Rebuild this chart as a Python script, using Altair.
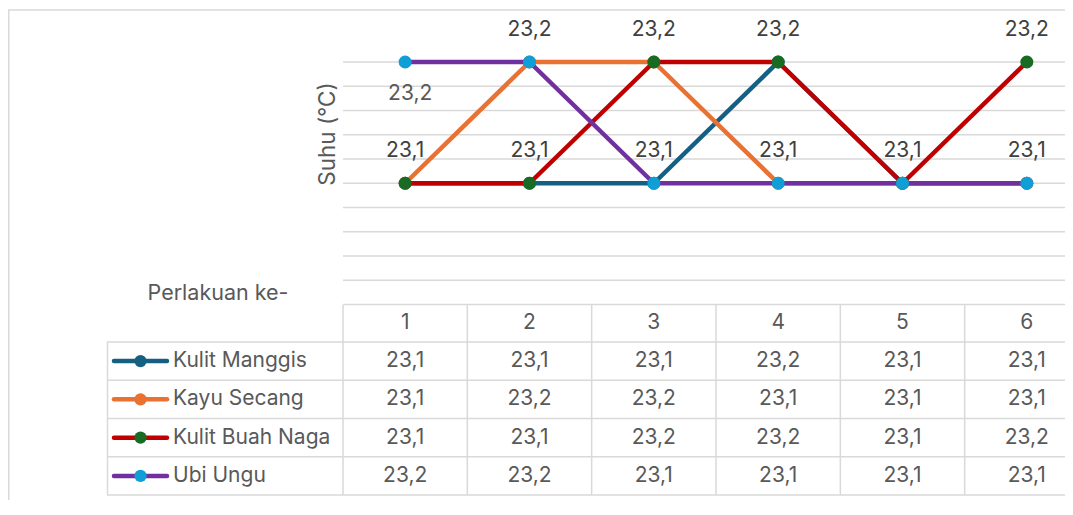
import altair as alt
import pandas as pd

# ---------------- data ----------------
PERLAKUAN = [1, 2, 3, 4, 5, 6]
SERIES = ["Kulit Manggis", "Kayu Secang", "Kulit Buah Naga", "Ubi Ungu"]
KULIT_MANGGIS = [23.1, 23.1, 23.1, 23.2, 23.1, 23.1]
KAYU_SECANG = [23.1, 23.2, 23.2, 23.1, 23.1, 23.1]
KULIT_BUAH_NAGA = [23.1, 23.1, 23.2, 23.2, 23.1, 23.2]
UBI_UNGU = [23.2, 23.2, 23.1, 23.1, 23.1, 23.1]
VALUES = [KULIT_MANGGIS, KAYU_SECANG, KULIT_BUAH_NAGA, UBI_UNGU]

LINE_COLORS = ["#156082", "#E97132", "#C00000", "#7030A0"]
MARKER_COLORS = ["#156082", "#E97132", "#196B24", "#0F9ED5"]

GRID_VALUES = [23.0, 23.02, 23.04, 23.06, 23.08, 23.1, 23.12, 23.14, 23.16, 23.18, 23.2]

# visible data labels (position relative to point)
LABEL_ABOVE_X = [2, 3, 4, 6, 1, 2, 3, 4, 5, 6]
LABEL_ABOVE_Y = [23.2, 23.2, 23.2, 23.2, 23.1, 23.1, 23.1, 23.1, 23.1, 23.1]
LABEL_BELOW_X = [1]
LABEL_BELOW_Y = [23.2]

Y_TITLE = "Suhu (°C)"
X_TITLE = "Perlakuan ke-"

FONT = "Inter"
TXT = "#595959"
LBL = "#404040"
GRID = "#d9d9d9"

W = 1057
H = 492


def fmt(v):
    return f"{v:.1f}".replace(".", ",")


# ---------------- scales ----------------
xs = alt.Scale(domain=[0.5, 6.5], range=[335, 1081])
ys = alt.Scale(domain=[23.0, 23.2], range=[296.5, 54])
rows = alt.Scale(type="point", domain=SERIES, range=[353.1, 467.9], padding=0)
rowlines = alt.Scale(domain=[0, 4], range=[334, 487])

one = pd.DataFrame({"a": [0]})
layers = []

# chart border
layers.append(alt.Chart(one).mark_rule(color=GRID, strokeWidth=1.5).encode(
    x=alt.value(0.75), y=alt.value(2), y2=alt.value(H)))
layers.append(alt.Chart(one).mark_rule(color=GRID, strokeWidth=1.5).encode(
    y=alt.value(2), x=alt.value(0), x2=alt.value(W)))

# gridlines
grid_df = pd.DataFrame({"g": GRID_VALUES})
layers.append(alt.Chart(grid_df).mark_rule(color=GRID, strokeWidth=1.5).encode(
    y=alt.Y("g:Q", scale=ys, axis=None), x=alt.value(335), x2=alt.value(W)))

# table horizontal lines
hl_df = pd.DataFrame({"k": [0, 1, 2, 3, 4]})
layers.append(alt.Chart(hl_df).mark_rule(color=GRID, strokeWidth=1.5).encode(
    y=alt.Y("k:Q", scale=rowlines, axis=None), x=alt.value(99), x2=alt.value(W)))

# table vertical lines
bounds = [p - 0.5 for p in PERLAKUAN] + [PERLAKUAN[-1] + 0.5]
vl_df = pd.DataFrame({"b": bounds})
layers.append(alt.Chart(vl_df).mark_rule(color=GRID, strokeWidth=1.5).encode(
    x=alt.X("b:Q", scale=xs, axis=None), y=alt.value(297), y2=alt.value(487)))
layers.append(alt.Chart(one).mark_rule(color=GRID, strokeWidth=1.5).encode(
    x=alt.value(99.5), y=alt.value(334), y2=alt.value(487)))

# y title
layers.append(alt.Chart(pd.DataFrame({"t": [Y_TITLE]})).mark_text(
    font=FONT, fontSize=22.5, color=TXT, angle=270, align="center", baseline="middle").encode(
    x=alt.value(319.5), y=alt.value(126), text="t:N"))

# x title
layers.append(alt.Chart(pd.DataFrame({"t": [X_TITLE]})).mark_text(
    font=FONT, fontSize=21.5, color=TXT, align="center", baseline="middle").encode(
    x=alt.value(210), y=alt.value(286), text="t:N"))

# lines + markers per series
for name, vals, lc, mc in zip(SERIES, VALUES, LINE_COLORS, MARKER_COLORS):
    d = pd.DataFrame({"perlakuan": PERLAKUAN, "suhu": vals})
    layers.append(alt.Chart(d).mark_line(color=lc, strokeWidth=4.5, strokeJoin="round", strokeCap="round").encode(
        x=alt.X("perlakuan:Q", scale=xs, axis=None),
        y=alt.Y("suhu:Q", scale=ys, axis=None)))
    layers.append(alt.Chart(d).mark_circle(color=mc, opacity=1, size=170).encode(
        x=alt.X("perlakuan:Q", scale=xs, axis=None),
        y=alt.Y("suhu:Q", scale=ys, axis=None)))

# data labels
ab = pd.DataFrame({"perlakuan": LABEL_ABOVE_X, "suhu": LABEL_ABOVE_Y})
ab["teks"] = ab["suhu"].map(fmt)
layers.append(alt.Chart(ab).mark_text(font=FONT, fontSize=21, color=LBL, dy=-32, baseline="middle").encode(
    x=alt.X("perlakuan:Q", scale=xs, axis=None),
    y=alt.Y("suhu:Q", scale=ys, axis=None), text="teks:N"))
be = pd.DataFrame({"perlakuan": LABEL_BELOW_X, "suhu": LABEL_BELOW_Y})
be["teks"] = be["suhu"].map(fmt)
layers.append(alt.Chart(be).mark_text(font=FONT, fontSize=21, color=TXT, dx=5, dy=32, baseline="middle").encode(
    x=alt.X("perlakuan:Q", scale=xs, axis=None),
    y=alt.Y("suhu:Q", scale=ys, axis=None), text="teks:N"))

# table header
hd = pd.DataFrame({"perlakuan": PERLAKUAN, "teks": [str(p) for p in PERLAKUAN]})
layers.append(alt.Chart(hd).mark_text(font=FONT, fontSize=21, color=TXT, baseline="middle").encode(
    x=alt.X("perlakuan:Q", scale=xs, axis=None), y=alt.value(315), text="teks:N"))

# table cells
recs = []
for name, vals in zip(SERIES, VALUES):
    for p, v in zip(PERLAKUAN, vals):
        recs.append({"series": name, "perlakuan": p, "teks": fmt(v)})
cells = pd.DataFrame(recs)
layers.append(alt.Chart(cells).mark_text(font=FONT, fontSize=21, color=TXT, baseline="middle").encode(
    x=alt.X("perlakuan:Q", scale=xs, axis=None),
    y=alt.Y("series:N", scale=rows, axis=None), text="teks:N"))

# legend keys in table
for name, lc, mc in zip(SERIES, LINE_COLORS, MARKER_COLORS):
    d = pd.DataFrame({"series": [name]})
    layers.append(alt.Chart(d).mark_rule(color=lc, strokeWidth=4.5, strokeCap="round").encode(
        x=alt.value(106), x2=alt.value(159), y=alt.Y("series:N", scale=rows, axis=None)))
    layers.append(alt.Chart(d).mark_circle(color=mc, opacity=1, size=150).encode(
        x=alt.value(132.5), y=alt.Y("series:N", scale=rows, axis=None)))

leg = pd.DataFrame({"series": SERIES})
layers.append(alt.Chart(leg).mark_text(font=FONT, fontSize=21, color=TXT, align="left", baseline="middle").encode(
    x=alt.value(165), y=alt.Y("series:N", scale=rows, axis=None), text="series:N"))

chart = alt.layer(*layers).resolve_scale(y="independent").properties(
    width=W, height=H, padding=0,
    autosize=alt.AutoSizeParams(type="none"),
    background="white",
).configure_view(strokeWidth=0)

chart.save("out.html", embed_options={"renderer": "svg", "actions": False})
